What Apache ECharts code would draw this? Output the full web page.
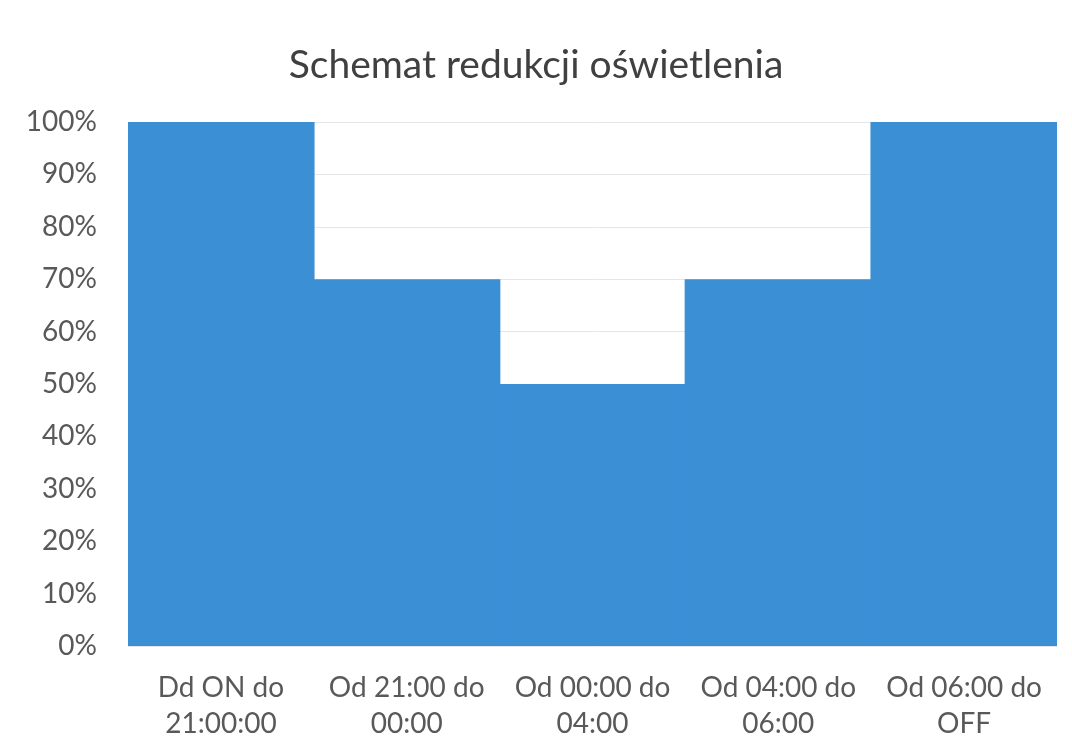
<!DOCTYPE html>
<html><head><meta charset="utf-8">
<script src="https://cdn.jsdelivr.net/npm/echarts@6/dist/echarts.min.js"></script>
<style>html,body{margin:0;padding:0;background:#fff}#c{width:1072px;height:755px}</style>
</head><body><div id="c"></div>
<script>
const categories = ["Dd ON do\n21:00:00", "Od 21:00 do\n00:00", "Od 00:00 do\n04:00", "Od 04:00 do\n06:00", "Od 06:00 do\nOFF"];
const values = [100, 70, 50, 70, 100];
const titleText = "Schemat redukcji oświetlenia";
const chart = echarts.init(document.getElementById('c'));
chart.setOption({
  animation: false,
  backgroundColor: '#fff',
  title: { text: titleText, left: 'center', top: 41, textStyle: { fontFamily: 'Lato', fontSize: 39, fontWeight: 'normal', color: '#404040' } },
  grid: { left: 128, right: 15, top: 122, bottom: 109 },
  xAxis: {
    type: 'category', data: categories,
    axisLine: { show: false }, axisTick: { show: false },
    axisLabel: { interval: 0, fontFamily: 'Lato', fontSize: 28, color: '#595959', lineHeight: 36, margin: 24 }
  },
  yAxis: {
    type: 'value', min: 0, max: 100, interval: 10,
    axisLabel: { formatter: '{value}%', fontFamily: 'Lato', fontSize: 28, color: '#595959', margin: 31 },
    splitLine: { lineStyle: { color: '#e6e6e6', width: 1 } },
    axisLine: { show: false }, axisTick: { show: false }
  },
  series: [{ type: 'bar', data: values, barWidth: '100.8%', barCategoryGap: '0%', itemStyle: { color: '#3a8fd5' } }]
});
</script></body></html>
